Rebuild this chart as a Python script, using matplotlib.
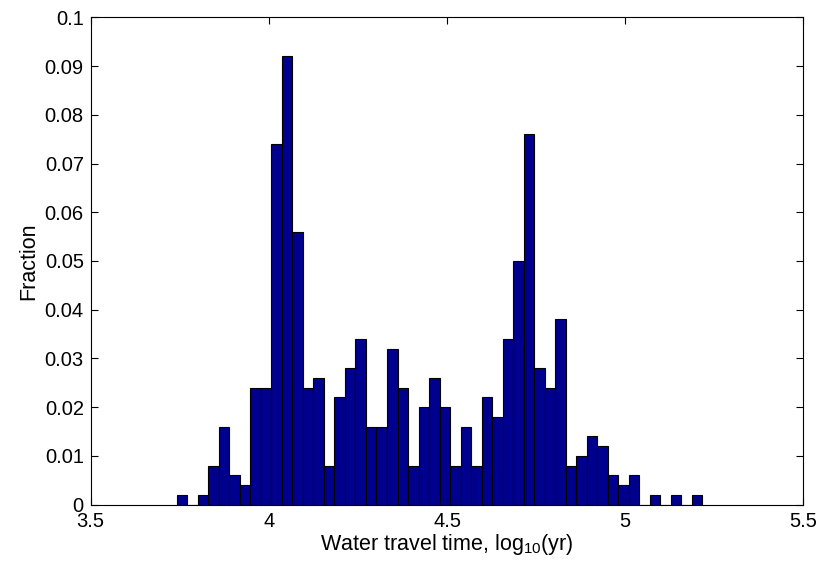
import numpy as np
import matplotlib
matplotlib.use("Agg")
import matplotlib.pyplot as plt

# histogram of log10 travel times, 50 bins
first_edge = 3.742
last_edge = 5.216
fraction = [0.002, 0.0, 0.002, 0.008, 0.016, 0.006, 0.004, 0.024, 0.024, 0.074,
            0.092, 0.056, 0.024, 0.026, 0.008, 0.022, 0.028, 0.034, 0.016, 0.016,
            0.032, 0.024, 0.008, 0.020, 0.026, 0.020, 0.008, 0.016, 0.008, 0.022,
            0.018, 0.034, 0.050, 0.076, 0.028, 0.024, 0.038, 0.008, 0.010, 0.014,
            0.012, 0.006, 0.004, 0.006, 0.0, 0.002, 0.0, 0.002, 0.0, 0.002]
xticks = [3.5, 4, 4.5, 5, 5.5]
yticks = [0, 0.01, 0.02, 0.03, 0.04, 0.05, 0.06, 0.07, 0.08, 0.09, 0.1]

plt.rcParams['font.family'] = ['Liberation Sans', 'DejaVu Sans']
plt.rcParams['mathtext.fontset'] = 'custom'
plt.rcParams['mathtext.rm'] = 'Liberation Sans'

edges = np.linspace(first_edge, last_edge, len(fraction) + 1)
centers = (edges[:-1] + edges[1:]) / 2

fig = plt.figure(figsize=(8.21, 5.69), dpi=100)
ax = fig.add_axes([90.7/821, 1 - 504.7/569, (803.3 - 90.7)/821, (504.7 - 17.3)/569])

ax.hist(centers, bins=edges, weights=fraction, facecolor=(0, 0, 0.5625),
        edgecolor='black', linewidth=0.8)

ax.set_xlim(3.5, 5.5)
ax.set_ylim(0, 0.1)
ax.set_xticks(xticks)
ax.set_xticklabels(['3.5', '4', '4.5', '5', '5.5'])
ax.set_yticks(yticks)
ax.set_yticklabels(['0', '0.01', '0.02', '0.03', '0.04', '0.05', '0.06',
                    '0.07', '0.08', '0.09', '0.1'])
ax.tick_params(direction='in', length=5, width=0.8, labelsize=14.5,
               top=True, right=True, pad=5)
for s in ax.spines.values():
    s.set_linewidth(0.8)

ax.set_xlabel('Water travel time, log$_{\\mathregular{10}}$(yr)', fontsize=15.5, labelpad=1)
ax.set_ylabel('Fraction', fontsize=15.5, labelpad=4)

fig.savefig('out.png', dpi=100)
